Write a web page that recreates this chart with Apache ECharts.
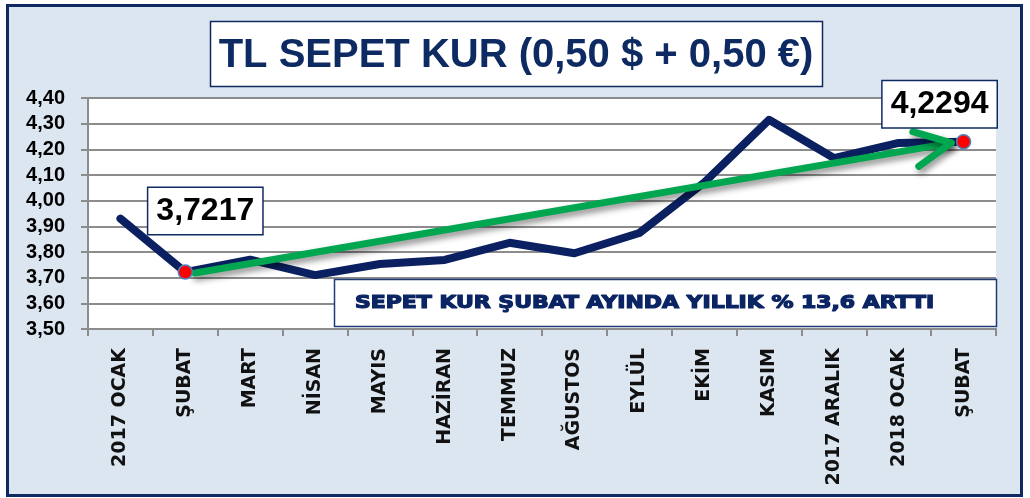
<!DOCTYPE html>
<html>
<head>
<meta charset="utf-8">
<script src="https://cdn.jsdelivr.net/npm/echarts@6/dist/echarts.min.js"></script>
<style>
html,body{margin:0;padding:0;background:#fff;}
#c{width:1030px;height:498px;}
</style>
</head>
<body>
<div id="c"></div>
<script>
const categories = ['2017 OCAK','ŞUBAT','MART','NİSAN','MAYIS','HAZİRAN','TEMMUZ','AĞUSTOS','EYLÜL','EKİM','KASIM','2017 ARALIK','2018 OCAK','ŞUBAT'];
const values = [3.93, 3.7217, 3.77, 3.71, 3.753, 3.769, 3.836, 3.795, 3.874, 4.07, 4.315, 4.166, 4.225, 4.2294];
const highlighted = [1, 13];
const trendArrow = [[1.15, 3.718, 12.81, 4.225]];
const titleText = 'TL SEPET KUR (0,50 $ + 0,50 €)';
const noteText = 'SEPET KUR ŞUBAT AYINDA YILLIK % 13,6 ARTTI';
const yMin = 3.5, yMax = 4.4, yStep = 0.1;

const NAVY = '#0a2060';
const GREEN = '#00a650';
const fmt = (v, d) => v.toFixed(d).replace('.', ',');

const labelOffsets = [[20, -61], [-24, -37.5]];
const scatterData = highlighted.map((i, k) => ({
  value: [i, values[i]],
  label: { offset: labelOffsets[k] }
}));

const chart = echarts.init(document.getElementById('c'), null, { renderer: 'canvas' });
chart.setOption({
  backgroundColor: '#ffffff',
  animation: false,
  grid: {
    left: 88, right: 34, top: 98, bottom: 169,
    containLabel: false, outerBoundsMode: 'none',
    show: true, backgroundColor: '#ffffff', borderWidth: 0
  },
  xAxis: [{
    type: 'category',
    data: categories,
    boundaryGap: true,
    axisLine: { show: true, onZero: false, lineStyle: { color: '#8c8c8c', width: 2 } },
    axisTick: { show: true, length: 7, lineStyle: { color: '#8c8c8c', width: 2 } },
    axisLabel: {
      rotate: 90, margin: 19, interval: 0,
      color: '#111', fontFamily: 'DejaVu Sans', fontWeight: 'bold', fontSize: 19
    },
    splitLine: { show: false }
  }, {
    type: 'value', min: -0.5, max: 13.5, show: false,
    axisLine: { show: false }, splitLine: { show: false }
  }],
  yAxis: {
    type: 'value', min: yMin, max: yMax, interval: yStep,
    axisLine: { show: true, onZero: false, lineStyle: { color: '#8c8c8c', width: 2 } },
    axisTick: { show: true, length: 7, lineStyle: { color: '#8c8c8c', width: 2 } },
    axisLabel: {
      margin: 23, color: '#000', fontFamily: 'Liberation Sans', fontWeight: 'bold', fontSize: 20,
      formatter: v => fmt(v, 2)
    },
    splitLine: { show: true, lineStyle: { color: '#8c8c8c', width: 2 } }
  },
  graphic: [
    { type: 'rect', z: -10, shape: { x: 7.5, y: 5.5, width: 1014, height: 490 },
      style: { fill: '#dce6f1', stroke: '#0f2a62', lineWidth: 3 } },
    { type: 'rect', z: 10, shape: { x: 210.5, y: 21.5, width: 612, height: 65 },
      style: { fill: '#ffffff', stroke: '#0f2a62', lineWidth: 1.5 } },
    { type: 'text', z: 11, x: 516, y: 56,
      style: { text: titleText, fill: '#0d2a63', font: 'bold 40px "Liberation Sans", Arial, sans-serif',
        align: 'center', verticalAlign: 'middle', textAlign: 'center', textVerticalAlign: 'middle' } },
    { type: 'rect', z: 10, shape: { x: 334.5, y: 279.5, width: 662, height: 47 },
      style: { fill: '#ffffff', stroke: '#1f3c78', lineWidth: 1.5 } },
    { type: 'text', z: 11, x: 355, y: 304, scaleX: 1.29,
      style: { text: noteText, fill: '#0b2463', stroke: '#0b2463', lineWidth: 1.2,
        font: 'bold 17px "DejaVu Sans", sans-serif',
        align: 'left', verticalAlign: 'middle', textAlign: 'left', textVerticalAlign: 'middle' } }
  ],
  series: [
    {
      type: 'line',
      data: values,
      symbol: 'none',
      lineStyle: { color: NAVY, width: 8, cap: 'round', join: 'round' },
      z: 3
    },
    {
      type: 'custom',
      xAxisIndex: 1,
      yAxisIndex: 0,
      z: 4,
      data: trendArrow,
      encode: { x: [0, 2], y: [1, 3] },
      renderItem: function (params, api) {
        const p0 = api.coord([api.value(0), api.value(1)]);
        const p1 = api.coord([api.value(2), api.value(3)]);
        const dx = p1[0] - p0[0], dy = p1[1] - p0[1];
        const ang = Math.atan2(-dy, -dx);
        const L = 40, a = 26 * Math.PI / 180;
        const w1 = [p1[0] + L * Math.cos(ang + a), p1[1] + L * Math.sin(ang + a)];
        const w2 = [p1[0] + L * Math.cos(ang - a), p1[1] + L * Math.sin(ang - a)];
        const st = {
          fill: null, stroke: GREEN, lineWidth: 7, lineCap: 'round', lineJoin: 'round',
          shadowBlur: 6, shadowColor: 'rgba(0,0,0,0.45)', shadowOffsetX: 2, shadowOffsetY: 4
        };
        return {
          type: 'group',
          children: [
            { type: 'polyline', shape: { points: [p0, p1] }, style: st },
            { type: 'polyline', shape: { points: [w1, p1, w2] }, style: st }
          ]
        };
      }
    },
    {
      type: 'scatter',
      data: scatterData,
      symbol: 'circle',
      symbolSize: 14,
      z: 5,
      itemStyle: { color: '#ff0000', borderColor: '#4f81bd', borderWidth: 1.5, opacity: 1 },
      label: {
        show: true, position: 'inside',
        formatter: p => fmt(p.value[1], 4),
        color: '#000', fontFamily: 'Liberation Sans', fontWeight: 'bold', fontSize: 32,
        lineHeight: 34,
        backgroundColor: '#ffffff', borderColor: '#0f2a62', borderWidth: 1.5,
        padding: [6, 8, 6, 8]
      },
      emphasis: { disabled: true }
    }
  ]
});
</script>
</body>
</html>
